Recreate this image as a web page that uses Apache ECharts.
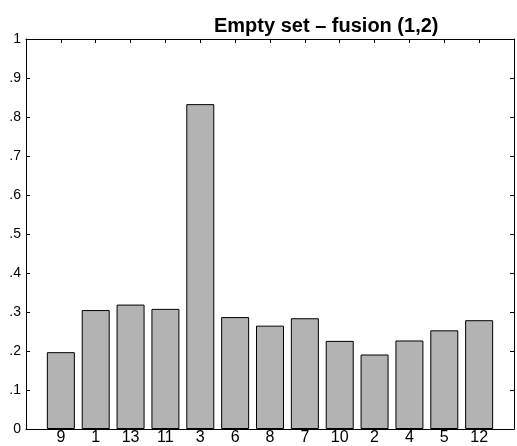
<!DOCTYPE html>
<html>
<head>
<meta charset="utf-8">
<script src="https://cdn.jsdelivr.net/npm/echarts@6/dist/echarts.min.js"></script>
<style>
  html, body { margin: 0; padding: 0; background: #fff; }
  #main { width: 517px; height: 446px; }
</style>
</head>
<body>
<div id="main"></div>
<script>
// categories in plotted order and their values
var categories = ['9', '1', '13', '11', '3', '6', '8', '7', '10', '2', '4', '5', '12'];
var values = [0.197, 0.305, 0.319, 0.308, 0.833, 0.287, 0.265, 0.284, 0.226, 0.191, 0.227, 0.253, 0.279];
var titleText = 'Empty set \u2013 fusion (1,2)';

var font = '"Liberation Sans", Arial, Helvetica, sans-serif';

var myChart = echarts.init(document.getElementById('main'));

// bars sit at x = 1..13 on a 0..14 axis, like the original plot
var barData = values.map(function (v, i) { return [i + 1, v]; });

function yLabel(v) {
    var r = Math.round(v * 10) / 10;
    if (r === 0) return '0';
    if (r === 1) return '1';
    return r.toFixed(1).replace(/^0/, '');
}

var lineStyle = { color: '#000', width: 1 };
var tickStyle = { show: true, inside: true, length: 4, lineStyle: { color: '#000', width: 1 } };

option = {
    animation: false,
    backgroundColor: '#fff',
    title: {
        text: titleText,
        left: 209,
        top: 11,
        textStyle: { fontFamily: font, fontSize: 20, fontWeight: 'bold', color: '#000' }
    },
    grid: { left: 26, top: 39, right: -2, bottom: 17, containLabel: false },
    xAxis: [{
        type: 'value',
        position: 'bottom',
        min: 0,
        max: 14,
        interval: 1,
        axisLine: { show: true, onZero: false, lineStyle: lineStyle },
        axisTick: tickStyle,
        splitLine: { show: false },
        axisLabel: {
            margin: 1,
            fontFamily: font,
            fontSize: 16,
            color: '#000',
            formatter: function (v) { return categories[v - 1] || ''; }
        }
    }, {
        type: 'value',
        position: 'top',
        min: 0,
        max: 14,
        interval: 1,
        axisLine: { show: true, onZero: false, lineStyle: lineStyle },
        axisTick: tickStyle,
        splitLine: { show: false },
        axisLabel: { show: false }
    }],
    yAxis: [{
        type: 'value',
        position: 'left',
        min: 0,
        max: 1,
        interval: 0.1,
        axisLine: { show: true, onZero: false, lineStyle: lineStyle },
        axisTick: tickStyle,
        splitLine: { show: false },
        axisLabel: {
            margin: 5,
            fontFamily: font,
            fontSize: 14,
            color: '#000',
            formatter: yLabel
        }
    }, {
        type: 'value',
        position: 'right',
        min: 0,
        max: 1,
        interval: 0.1,
        axisLine: { show: true, onZero: false, lineStyle: lineStyle },
        axisTick: tickStyle,
        splitLine: { show: false },
        axisLabel: { show: false }
    }],
    series: [{
        type: 'bar',
        xAxisIndex: 0,
        yAxisIndex: 0,
        data: barData,
        barWidth: 28,
        itemStyle: { color: '#b3b3b3', borderColor: '#000', borderWidth: 1 }
    }]
};

myChart.setOption(option);
</script>
</body>
</html>
